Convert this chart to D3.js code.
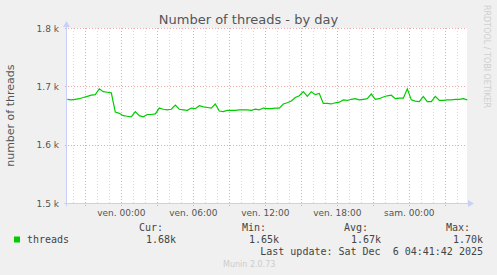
<!DOCTYPE html>
<html>
<head>
<meta charset="utf-8">
<script src="https://cdn.jsdelivr.net/npm/d3@7"></script>
<style>
  body { margin: 0; background: #f0f0f0; }
  svg { display: block; }
</style>
</head>
<body>
<div id="chart"></div>
<script>
// threads sampled every 20 minutes, starting Thu Dec 4 19:30
const startTime = new Date(2025, 11, 4, 19, 30);
const stepMinutes = 20;
const threads = [
  1678, 1677, 1678, 1679, 1681, 1683, 1685, 1686, 1696, 1691,
  1690, 1689, 1656, 1654, 1650, 1649, 1648, 1657, 1650, 1648,
  1652, 1652, 1653, 1663, 1661, 1660, 1661, 1668, 1661, 1660,
  1659, 1663, 1662, 1667, 1665, 1664, 1663, 1670, 1658, 1657,
  1659, 1659, 1659, 1660, 1660, 1660, 1659, 1661, 1660, 1663,
  1662, 1662, 1663, 1663, 1670, 1672, 1675, 1681, 1684, 1691,
  1683, 1691, 1686, 1688, 1671, 1671, 1670, 1672, 1673, 1677,
  1676, 1678, 1679, 1677, 1678, 1679, 1687, 1678, 1679, 1682,
  1684, 1685, 1679, 1680, 1680, 1696, 1677, 1675, 1674, 1683,
  1674, 1674, 1683, 1676, 1676, 1677, 1677, 1678, 1678, 1679,
  1677
];
const yTicks = [1500, 1600, 1700, 1800];
const xLabelTicks = [
  {t: new Date(2025, 11, 5, 0, 0), label: "ven. 00:00"},
  {t: new Date(2025, 11, 5, 6, 0), label: "ven. 06:00"},
  {t: new Date(2025, 11, 5, 12, 0), label: "ven. 12:00"},
  {t: new Date(2025, 11, 5, 18, 0), label: "ven. 18:00"},
  {t: new Date(2025, 11, 6, 0, 0), label: "sam. 00:00"}
];
const legendHeads = ["Cur:", "Min:", "Avg:", "Max:"];
const legendValues = ["1.68k", "1.65k", "1.67k", "1.70k"];
const seriesName = "threads";
const lastUpdate = "Last update: Sat Dec  6 04:41:42 2025";

const W = 497, H = 275;
const plot = {left: 67, right: 467, top: 28, bottom: 203.3};
const green = "#00cc00";
const axisCol = "#c8d0f8";

const data = threads.map((v, i) => ({t: new Date(startTime.getTime() + i * stepMinutes * 60000), v}));

const svg = d3.select("#chart").append("svg")
  .attr("width", W).attr("height", H);
svg.append("rect").attr("width", W).attr("height", H).attr("fill", "#f0f0f0");

const x = d3.scaleTime()
  .domain([new Date(2025, 11, 4, 19, 28, 30), new Date(2025, 11, 6, 4, 48, 30)])
  .range([plot.left, plot.right]);
const y = d3.scaleLinear().domain([1500, 1800]).range([plot.bottom, plot.top]);

svg.append("rect")
  .attr("x", plot.left).attr("y", plot.top)
  .attr("width", plot.right - plot.left).attr("height", plot.bottom - plot.top)
  .attr("fill", "#fff");

// grid
const hours = d3.timeHour.range(x.domain()[0], x.domain()[1]);
svg.append("g").selectAll("line")
  .data(hours.filter(h => h.getHours() % 3 != 0))
  .join("line")
  .attr("x1", d => Math.round(x(d)) + 0.5).attr("x2", d => Math.round(x(d)) + 0.5)
  .attr("y1", plot.top).attr("y2", plot.bottom)
  .attr("stroke", "#d8d8d8").attr("stroke-dasharray", "1,2");
svg.append("g").selectAll("line")
  .data(hours.filter(h => h.getHours() % 3 == 0))
  .join("line")
  .attr("x1", d => Math.round(x(d)) + 0.5).attr("x2", d => Math.round(x(d)) + 0.5)
  .attr("y1", plot.top).attr("y2", plot.bottom + 3)
  .attr("stroke", "#eaa8a8").attr("stroke-dasharray", "1,2");
svg.append("g").selectAll("line")
  .data(yTicks)
  .join("line")
  .attr("x1", plot.left - 2).attr("x2", plot.right)
  .attr("y1", d => Math.round(y(d)) + 0.5).attr("y2", d => Math.round(y(d)) + 0.5)
  .attr("stroke", "#eaa8a8").attr("stroke-dasharray", "1,2");

// axes
svg.append("line")
  .attr("x1", plot.left - 0.5).attr("x2", plot.left - 0.5)
  .attr("y1", plot.top - 2).attr("y2", plot.bottom + 3)
  .attr("stroke", axisCol);
svg.append("line")
  .attr("x1", plot.left - 3).attr("x2", plot.right + 2)
  .attr("y1", Math.round(plot.bottom) + 0.5).attr("y2", Math.round(plot.bottom) + 0.5)
  .attr("stroke", axisCol);
svg.append("path")
  .attr("d", `M${plot.left - 4},${plot.top - 1}L${plot.left - 0.5},${plot.top - 7}L${plot.left + 3},${plot.top - 1}Z`)
  .attr("fill", axisCol);
const yb = Math.round(plot.bottom) + 0.5;
svg.append("path")
  .attr("d", `M${plot.right + 1},${yb - 3.5}L${plot.right + 7},${yb}L${plot.right + 1},${yb + 3.5}Z`)
  .attr("fill", axisCol);

// tick labels
svg.append("g").selectAll("text")
  .data(yTicks)
  .join("text")
  .attr("x", plot.left - 8).attr("y", d => y(d) + 3.5)
  .attr("text-anchor", "end")
  .attr("font-family", "DejaVu Sans").attr("font-size", 9)
  .attr("fill", "#555")
  .text(d => d3.format(".1f")(d / 1000) + " k");
svg.append("g").selectAll("text")
  .data(xLabelTicks)
  .join("text")
  .attr("x", d => x(d.t)).attr("y", 216)
  .attr("text-anchor", "middle")
  .attr("font-family", "DejaVu Sans").attr("font-size", 9)
  .attr("fill", "#555")
  .text(d => d.label);

// series
svg.append("path")
  .datum(data)
  .attr("d", d3.line().x(d => x(d.t)).y(d => y(d.v)))
  .attr("fill", "none").attr("stroke", green).attr("stroke-width", 1.2);

// titles
svg.append("text")
  .attr("x", 248.5).attr("y", 24)
  .attr("text-anchor", "middle")
  .attr("font-family", "DejaVu Sans").attr("font-size", 13)
  .attr("fill", "#555")
  .text("Number of threads - by day");
svg.append("text")
  .attr("transform", `translate(14,${(plot.top + plot.bottom) / 2}) rotate(-90)`)
  .attr("text-anchor", "middle")
  .attr("font-family", "DejaVu Sans").attr("font-size", 11)
  .attr("fill", "#555")
  .text("number of threads");
svg.append("text")
  .attr("transform", "translate(484,5) rotate(90)")
  .attr("font-family", "DejaVu Sans").attr("font-size", 8)
  .attr("fill", "#cfcfcf")
  .text("RRDTOOL / TOBI OETIKER");

// legend
svg.append("rect")
  .attr("x", 14).attr("y", 236.5).attr("width", 6).attr("height", 6)
  .attr("fill", green);
const mono = "DejaVu Sans Mono";
svg.append("text")
  .attr("x", 27).attr("y", 243)
  .attr("font-family", mono).attr("font-size", 10).attr("fill", "#444")
  .text(seriesName);
const colEnds = [176, 279, 381, 483];
svg.append("g").selectAll("text")
  .data(legendHeads)
  .join("text")
  .attr("x", (d, i) => colEnds[i] - 13).attr("y", 231)
  .attr("text-anchor", "end")
  .attr("font-family", mono).attr("font-size", 10).attr("fill", "#444")
  .text(d => d);
svg.append("g").selectAll("text")
  .data(legendValues)
  .join("text")
  .attr("x", (d, i) => colEnds[i]).attr("y", 243)
  .attr("text-anchor", "end")
  .attr("font-family", mono).attr("font-size", 10).attr("fill", "#444")
  .text(d => d);
svg.append("text")
  .attr("x", 483).attr("y", 255)
  .attr("text-anchor", "end")
  .attr("font-family", mono).attr("font-size", 10).attr("fill", "#444")
  .attr("xml:space", "preserve").style("white-space", "pre")
  .text(lastUpdate);
svg.append("text")
  .attr("x", 223).attr("y", 267)
  .attr("font-family", "DejaVu Sans").attr("font-size", 8)
  .attr("fill", "#cccccc")
  .text("Munin 2.0.73");
</script>
</body>
</html>
